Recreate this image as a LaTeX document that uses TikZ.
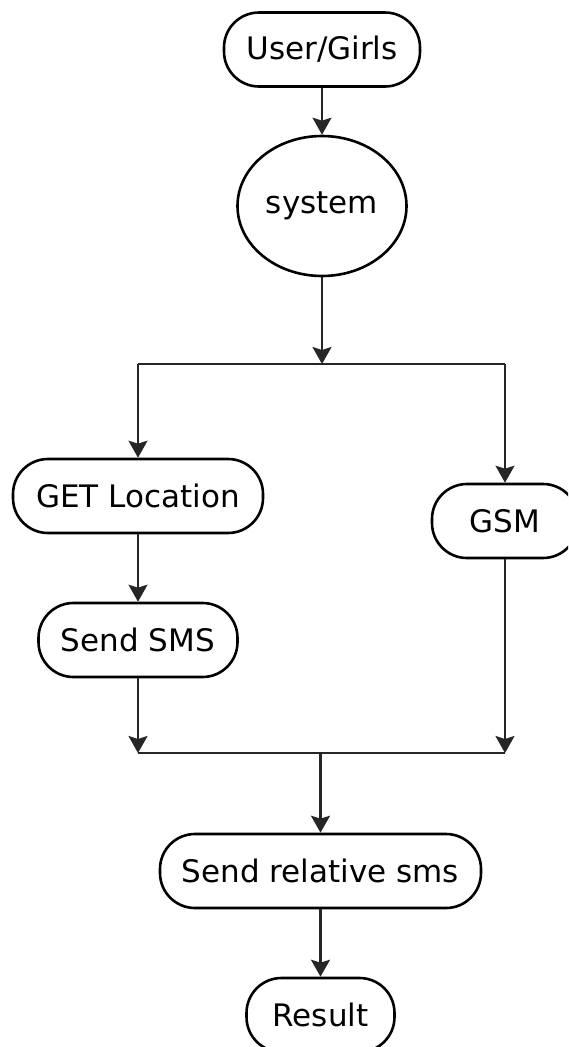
\documentclass[tikz,border=0pt]{standalone}
\usepackage{fontspec}
\setmainfont{DejaVu Sans}
\usetikzlibrary{arrows.meta,shapes.geometric}
\begin{document}
\begin{tikzpicture}[x=1pt,y=-1pt,
  term/.style={draw=black, line width=2.6pt, rounded corners=35pt, minimum height=74pt,
    inner sep=0pt, fill=white, font=\fontsize{31pt}{37pt}\selectfont},
  oval/.style={ellipse, draw=black, line width=2.6pt, inner sep=0pt, fill=white,
    font=\fontsize{31pt}{37pt}\selectfont},
  conn/.style={draw=black!85, line width=2.2pt},
  arr/.style={conn, -{Stealth[length=17pt,width=19pt,inset=3pt]}}]
\useasboundingbox (0,0) rectangle (568,1047);
\clip (0,0) rectangle (568,1047);
\fill[white] (0,0) rectangle (568,1047);

\node[term, minimum width=196pt] (ug) at (322,49.5) {User/Girls};
\node[oval, minimum width=169pt, minimum height=140pt] (sys) at (322,206) {system};
\node[term, minimum width=250pt] (gl) at (138,496) {GET Location};
\node[term, minimum width=146pt] (gsm) at (505,521) {GSM};
\node[term, minimum width=199pt] (ss) at (138,640) {Send SMS};
\node[term, minimum width=321pt] (srs) at (320.5,871) {Send relative sms};
\node[term, minimum width=148pt] (res) at (320.5,1015) {Result};

\coordinate (sm) at (322,364);
\coordinate (sl) at (138,364);
\coordinate (sr) at (505,364);
\coordinate (jl) at (138,753);
\coordinate (jm) at (320.5,753);
\coordinate (jr) at (505,753);

\draw[arr] (ug) -- (sys);
\draw[conn] (sl) -- (sr);
\draw[arr] (sys) -- (sm);
\draw[arr] (sl) -- (gl);
\draw[arr] (sr) -- (gsm);
\draw[arr] (gl) -- (ss);
\draw[conn] (jl) -- (jr);
\draw[arr] (ss) -- (jl);
\draw[arr] (gsm) -- (jr);
\draw[arr] (jm) -- (srs);
\draw[arr] (srs) -- (res);
\end{tikzpicture}
\end{document}
